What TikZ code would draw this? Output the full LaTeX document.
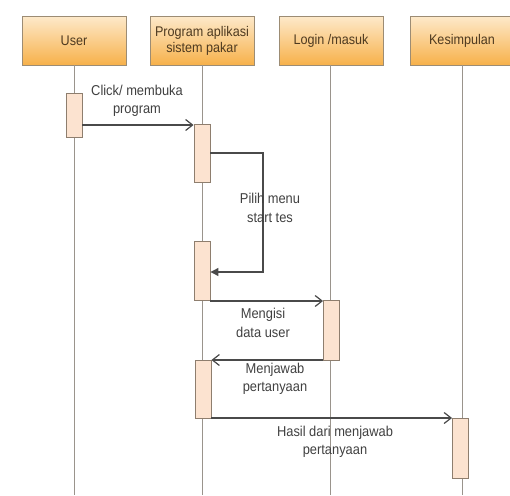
\documentclass[tikz,border=0pt]{standalone}
\usepackage{fontspec}
\setmainfont[FakeStretch=0.9]{Liberation Sans}
\usetikzlibrary{arrows.meta}
\definecolor{headtop}{HTML}{FDE8C8}
\definecolor{headbot}{HTML}{F7B14A}
\definecolor{headline}{HTML}{9C8C74}
\definecolor{headtext}{HTML}{4E3A20}
\definecolor{actfill}{HTML}{FCE3D0}
\definecolor{actline}{HTML}{8E7E6E}
\definecolor{lifecol}{HTML}{9A948C}
\definecolor{msgcol}{HTML}{4A4A4A}
\definecolor{labcol}{HTML}{404040}
\begin{document}
\begin{tikzpicture}[x=1pt,y=-1pt,
  head/.style={draw=headline, line width=1pt, top color=headtop, bottom color=headbot,
    minimum width=104pt, minimum height=48pt, inner sep=0pt, text=headtext,
    align=center, font=\fontsize{14}{16}\selectfont},
  act/.style={draw=actline, line width=0.9pt, fill=actfill, minimum width=16pt, inner sep=0pt},
  life/.style={draw=lifecol, line width=1pt},
  msg/.style={draw=msgcol, line width=1.2pt, -{Straight Barb[length=7pt,width=11pt,line width=1.2pt]}},
  selfmsg/.style={draw=msgcol, line width=1.2pt, -{Triangle[length=8pt,width=8pt]}},
  lab/.style={text=labcol, align=center, font=\fontsize{14.3}{18.5}\selectfont, inner sep=0pt}]
\useasboundingbox (0,0) rectangle (510,495);
\clip (0,0) rectangle (510,495);

% object heads
\node[head] (user) at (74,41) {User};
\node[head] (prog) at (202,41) {Program aplikasi\\sistem pakar};
\node[head] (login) at (331,41) {Login /masuk};
\node[head] (kes) at (462,41) {Kesimpulan};

% lifeline ends
\coordinate (userend) at (74,495);
\coordinate (progend) at (202,495);
\coordinate (loginend) at (330,495);
\coordinate (kesend) at (462,495);

\draw[life] (74,65) -- (userend);
\draw[life] (202,65) -- (progend);
\draw[life] (330,65) -- (loginend);
\draw[life] (462,65) -- (kesend);

% activation bars
\node[act, minimum height=44pt] (a1) at (74,115) {};
\node[act, minimum height=58pt] (a2) at (202,153) {};
\node[act, minimum height=59pt] (a3) at (202,270.5) {};
\node[act, minimum height=60pt] (a4) at (331.5,330) {};
\node[act, minimum height=58pt] (a5) at (203,389) {};
\node[act, minimum height=60pt] (a6) at (460.5,448) {};

% messages
\draw[msg] (a1.east |- 0,125) -- (a2.west |- 0,125);
\node[lab] (l1) at (137,101) {Click/ membuka\\program};

\coordinate (s1) at (263,153);
\coordinate (s2) at (263,272);
\draw[selfmsg] (a2.east |- s1) -- (s1) -- (s2) -- (a3.east |- s2);
\node[lab] (l2) at (270,208) {Pilih menu\\start tes};

\draw[msg] (a3.east |- 0,301) -- (a4.west |- 0,301);
\node[lab] (l3) at (263,323) {Mengisi\\data user};

\draw[msg] (a4.west |- 0,360) -- (a5.east |- 0,360);
\node[lab] (l4) at (275,379) {Menjawab\\pertanyaan};

\draw[msg] (a5.east |- 0,418) -- (a6.west |- 0,418);
\node[lab] (l5) at (335,442) {Hasil dari menjawab\\pertanyaan};
\end{tikzpicture}
\end{document}
